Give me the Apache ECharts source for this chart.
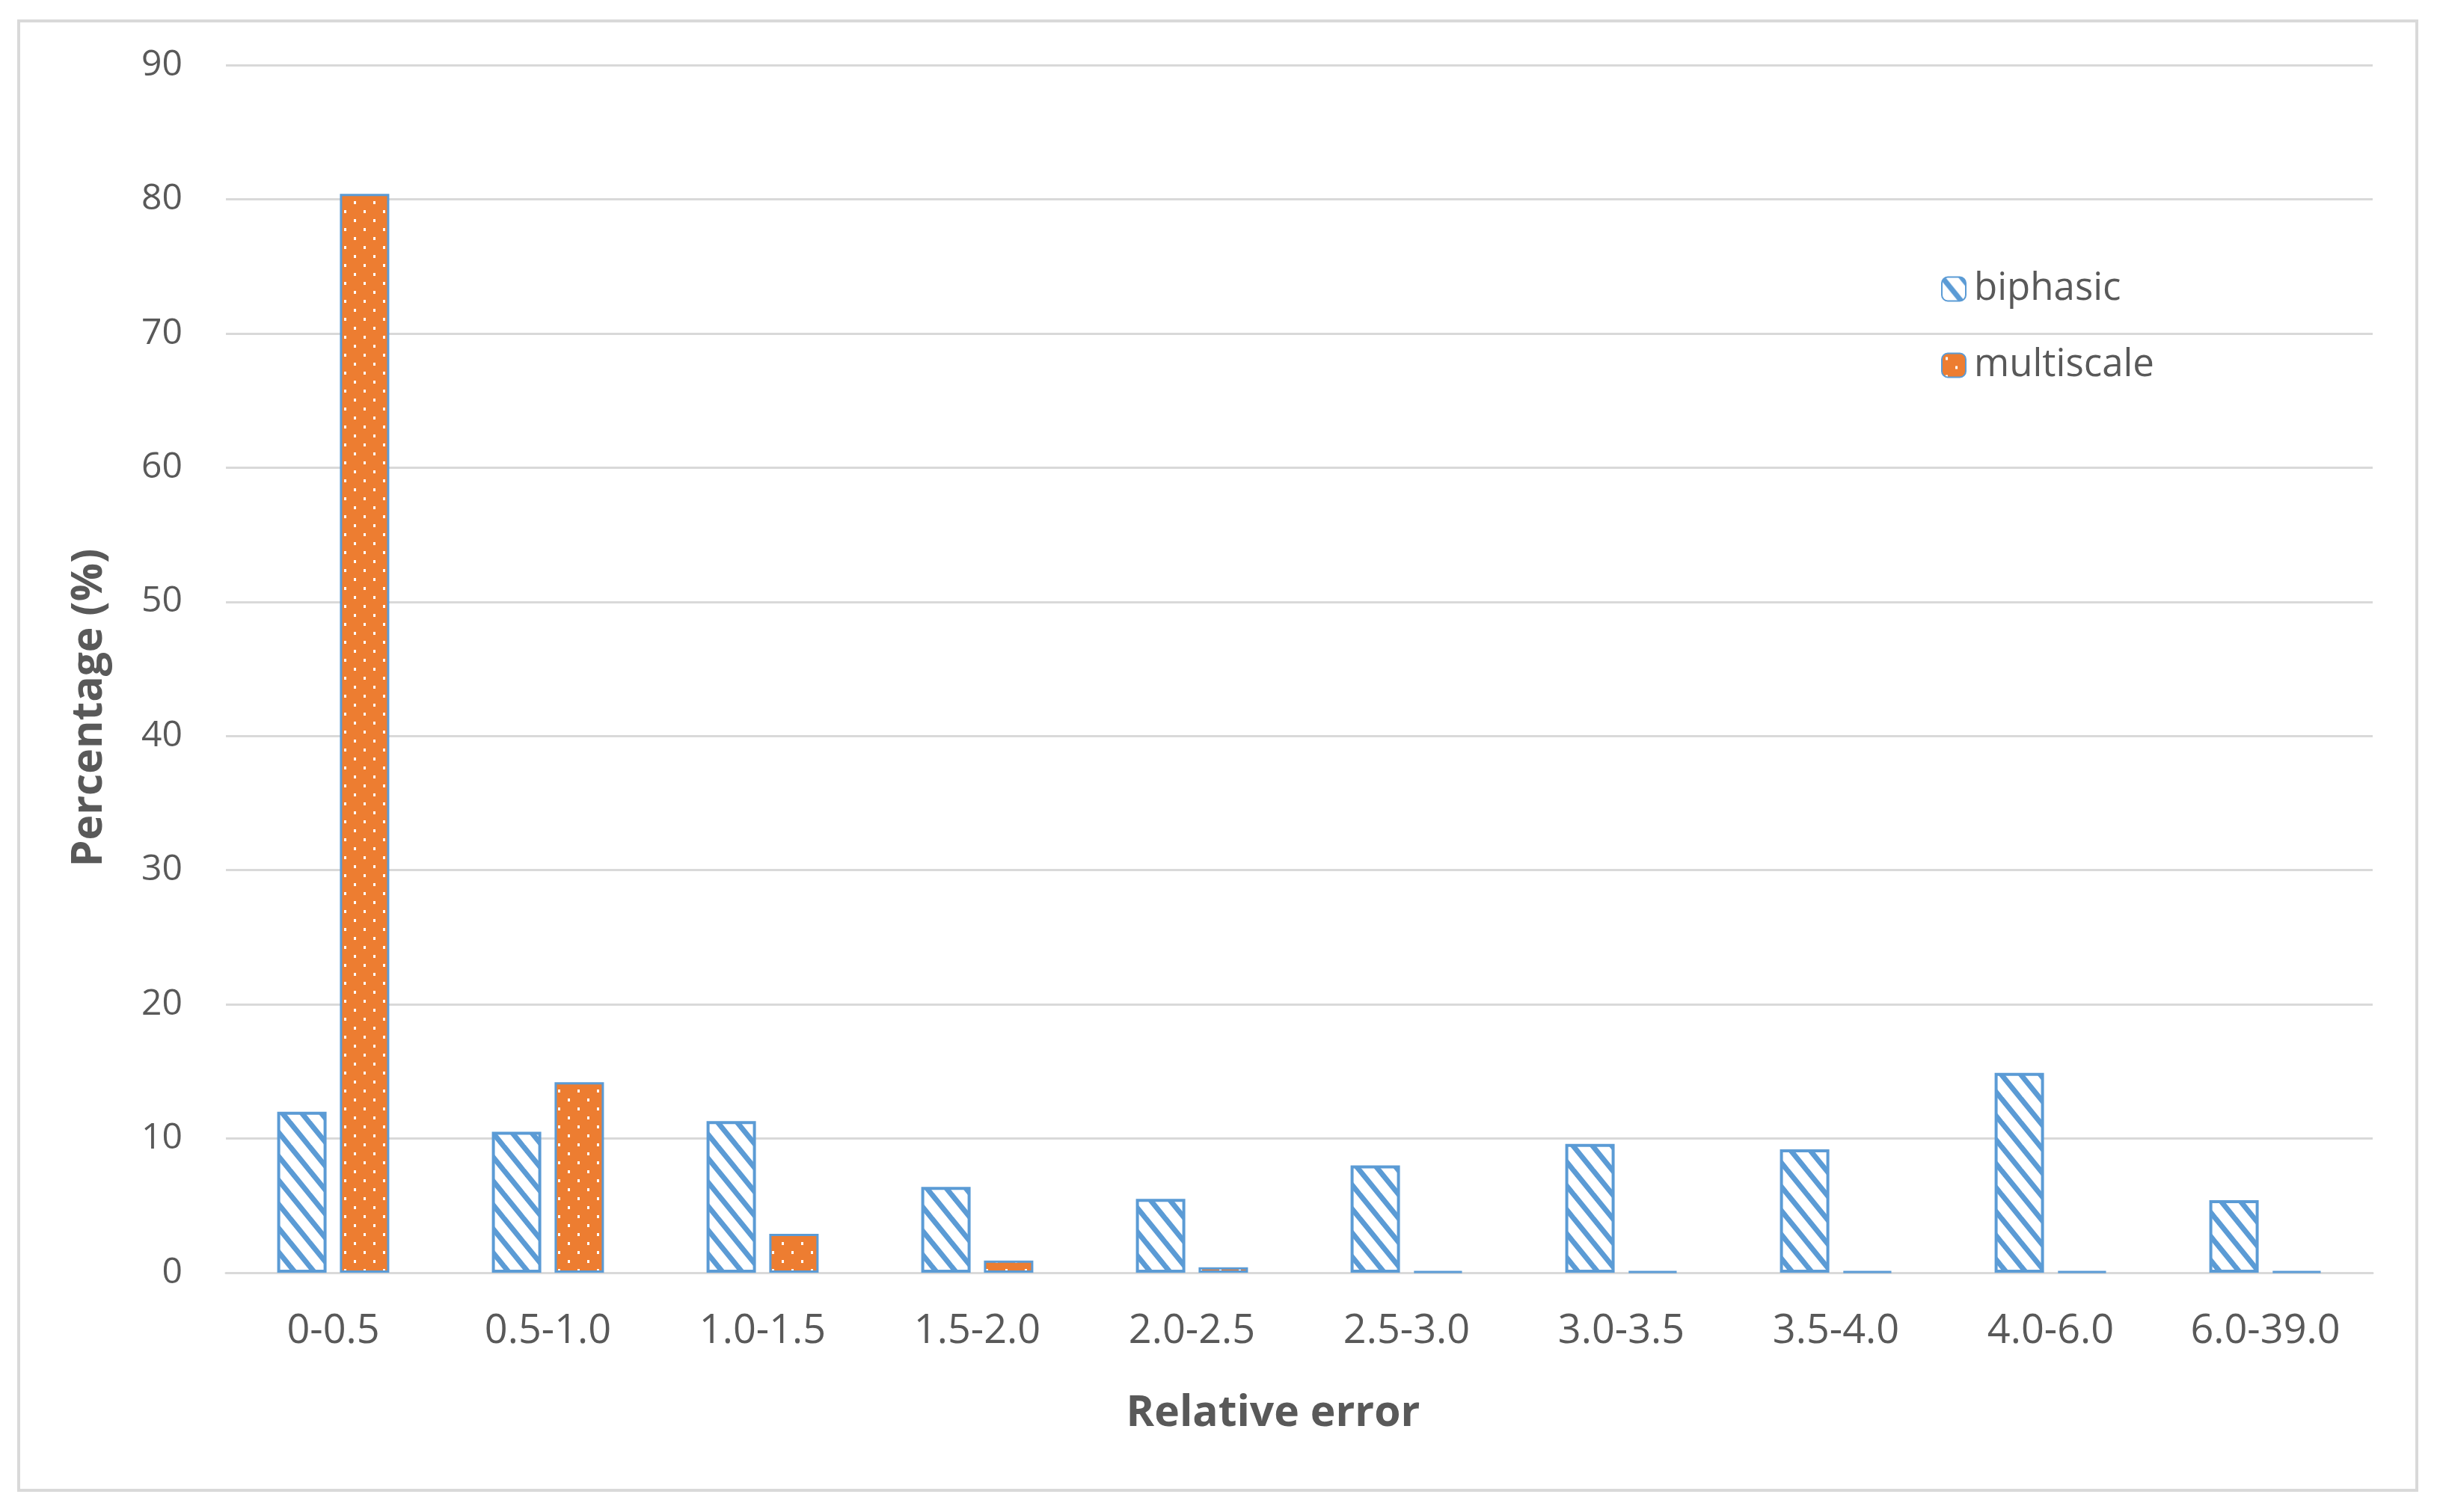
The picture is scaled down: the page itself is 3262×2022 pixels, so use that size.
<!DOCTYPE html>
<html>
<head>
<meta charset="utf-8">
<title>Relative error distribution</title>
<script src="https://cdn.jsdelivr.net/npm/echarts@6/dist/echarts.min.js"></script>
<style>
  html, body { margin: 0; padding: 0; background: #fff; }
  #chart { width: 3262px; height: 2022px; }
</style>
</head>
<body>
<div id="chart"></div>
<script>
var categories = ['0-0.5', '0.5-1.0', '1.0-1.5', '1.5-2.0', '2.0-2.5', '2.5-3.0', '3.0-3.5', '3.5-4.0', '4.0-6.0', '6.0-39.0'];
var biphasic   = [12.0, 10.5, 11.3, 6.4, 5.5, 8.0, 9.6, 9.2, 14.9, 5.4];
var multiscale = [80.4, 14.2, 2.9, 0.9, 0.4, 0.1, 0.1, 0.1, 0.1, 0.1];
var yTicks = [0, 10, 20, 30, 40, 50, 60, 70, 80, 90];

var BLUE = '#5B9BD5', ORANGE = '#ED7D31', TEXT = '#595959', GRID = '#D9D9D9';
var FONT = '"Open Sans", "Noto Sans", sans-serif';

// diagonal hatch, "\" direction
function hatchPattern() {
    var a = 26, b = 32;
    var c = document.createElement('canvas');
    c.width = a; c.height = b;
    var ctx = c.getContext('2d');
    ctx.fillStyle = '#fff';
    ctx.fillRect(0, 0, a, b);
    ctx.strokeStyle = BLUE;
    ctx.lineWidth = 7;
    for (var k = -1; k <= 1; k++) {
        ctx.beginPath();
        ctx.moveTo(k * a - a, -b);
        ctx.lineTo(k * a + 2 * a, 2 * b);
        ctx.stroke();
    }
    return c;
}

// small white dots on orange
function dotPattern() {
    var w = 26, h = 24;
    var c = document.createElement('canvas');
    c.width = w; c.height = h;
    var ctx = c.getContext('2d');
    ctx.fillStyle = ORANGE;
    ctx.fillRect(0, 0, w, h);
    ctx.fillStyle = '#fff';
    ctx.fillRect(5, 5, 3, 4);
    ctx.fillRect(18, 17, 3, 4);
    return c;
}

var chart = echarts.init(document.getElementById('chart'), null, { renderer: 'canvas' });

var option = {
    backgroundColor: '#fff',
    animation: false,
    textStyle: { fontFamily: FONT },
    graphic: [{
        type: 'rect',
        shape: { x: 25, y: 28, width: 3206, height: 1965 },
        style: { fill: 'none', stroke: GRID, lineWidth: 4 },
        silent: true
    }],
    grid: { left: 302, right: 90, top: 87, bottom: 320 },
    legend: {
        orient: 'vertical',
        left: 2590,
        top: 356,
        itemWidth: 32,
        itemHeight: 32,
        itemGap: 51,
        textStyle: { color: TEXT, fontSize: 51, fontFamily: FONT, padding: [0, 0, 0, 6] },
        data: ['biphasic', 'multiscale']
    },
    xAxis: {
        type: 'category',
        data: categories,
        name: 'Relative error',
        nameLocation: 'middle',
        nameGap: 160,
        nameTextStyle: { color: TEXT, fontSize: 57, fontWeight: 'bold', fontFamily: FONT, padding: [0, 70, 0, 0] },
        axisLine: { lineStyle: { color: GRID, width: 3 } },
        axisTick: { show: false },
        axisLabel: { color: TEXT, fontSize: 54, margin: 52, fontFamily: FONT }
    },
    yAxis: {
        type: 'value',
        min: yTicks[0],
        max: yTicks[yTicks.length - 1],
        interval: 10,
        name: 'Percentage (%)',
        nameLocation: 'middle',
        nameGap: 154,
        nameTextStyle: { color: TEXT, fontSize: 57, fontWeight: 'bold', fontFamily: FONT, padding: [0, 104, 0, 0] },
        axisLine: { show: false },
        axisTick: { show: false },
        axisLabel: { color: TEXT, fontSize: 48, margin: 58, fontFamily: FONT },
        splitLine: { lineStyle: { color: GRID, width: 3 } }
    },
    series: [
        {
            name: 'biphasic',
            type: 'bar',
            barWidth: 66,
            barGap: '27%',
            data: biphasic,
            itemStyle: {
                color: { image: hatchPattern(), repeat: 'repeat' },
                borderColor: BLUE,
                borderWidth: 4
            }
        },
        {
            name: 'multiscale',
            type: 'bar',
            barWidth: 66,
            barGap: '27%',
            data: multiscale,
            itemStyle: {
                color: { image: dotPattern(), repeat: 'repeat' },
                borderColor: BLUE,
                borderWidth: 3
            }
        }
    ]
};
chart.setOption(option);
</script>
</body>
</html>
